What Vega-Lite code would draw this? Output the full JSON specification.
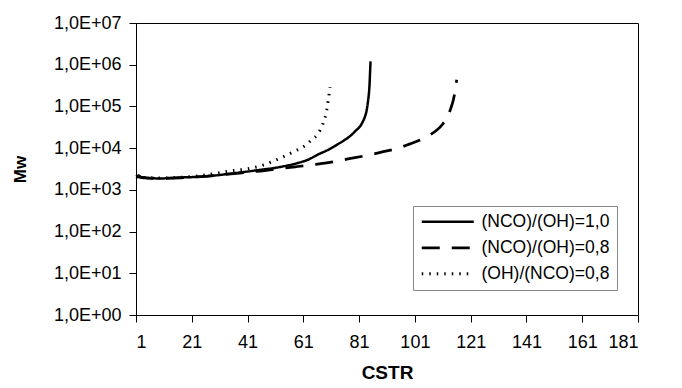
{
  "$schema": "https://vega.github.io/schema/vega-lite/v6.json",
  "width": 502,
  "height": 292,
  "autosize": "none",
  "padding": {"left": 136, "top": 23, "right": 44, "bottom": 73},
  "background": "white",
  "config": {
    "view": {"stroke": "black", "strokeWidth": 1},
    "font": "Liberation Sans",
    "axis": {
      "grid": false,
      "domainColor": "black",
      "tickColor": "black",
      "labelColor": "black",
      "titleColor": "black",
      "labelFont": "Liberation Sans",
      "titleFont": "Liberation Sans",
      "labelFontSize": 18,
      "titleFontWeight": "bold",
      "tickSize": 7,
      "labelPadding": 8
    }
  },
  "data": {
    "values": [
      {"series": "(NCO)/(OH)=1,0", "CSTR": 1, "Mw": 2100},
      {"series": "(NCO)/(OH)=1,0", "CSTR": 2, "Mw": 2200},
      {"series": "(NCO)/(OH)=1,0", "CSTR": 3, "Mw": 1950},
      {"series": "(NCO)/(OH)=1,0", "CSTR": 6, "Mw": 1900},
      {"series": "(NCO)/(OH)=1,0", "CSTR": 10, "Mw": 1880},
      {"series": "(NCO)/(OH)=1,0", "CSTR": 17, "Mw": 1980},
      {"series": "(NCO)/(OH)=1,0", "CSTR": 23, "Mw": 2050},
      {"series": "(NCO)/(OH)=1,0", "CSTR": 29, "Mw": 2200},
      {"series": "(NCO)/(OH)=1,0", "CSTR": 35, "Mw": 2450},
      {"series": "(NCO)/(OH)=1,0", "CSTR": 41, "Mw": 2750},
      {"series": "(NCO)/(OH)=1,0", "CSTR": 47, "Mw": 3100},
      {"series": "(NCO)/(OH)=1,0", "CSTR": 50, "Mw": 3300},
      {"series": "(NCO)/(OH)=1,0", "CSTR": 55, "Mw": 3800},
      {"series": "(NCO)/(OH)=1,0", "CSTR": 59, "Mw": 4400},
      {"series": "(NCO)/(OH)=1,0", "CSTR": 63, "Mw": 5400},
      {"series": "(NCO)/(OH)=1,0", "CSTR": 66, "Mw": 6900},
      {"series": "(NCO)/(OH)=1,0", "CSTR": 70, "Mw": 9200},
      {"series": "(NCO)/(OH)=1,0", "CSTR": 73, "Mw": 12000},
      {"series": "(NCO)/(OH)=1,0", "CSTR": 76, "Mw": 16000},
      {"series": "(NCO)/(OH)=1,0", "CSTR": 78, "Mw": 20000},
      {"series": "(NCO)/(OH)=1,0", "CSTR": 80, "Mw": 27000},
      {"series": "(NCO)/(OH)=1,0", "CSTR": 81.3, "Mw": 33000},
      {"series": "(NCO)/(OH)=1,0", "CSTR": 82.3, "Mw": 43000},
      {"series": "(NCO)/(OH)=1,0", "CSTR": 83.1, "Mw": 57000},
      {"series": "(NCO)/(OH)=1,0", "CSTR": 83.7, "Mw": 80000},
      {"series": "(NCO)/(OH)=1,0", "CSTR": 84.1, "Mw": 120000},
      {"series": "(NCO)/(OH)=1,0", "CSTR": 84.5, "Mw": 200000},
      {"series": "(NCO)/(OH)=1,0", "CSTR": 84.7, "Mw": 300000},
      {"series": "(NCO)/(OH)=1,0", "CSTR": 84.9, "Mw": 600000},
      {"series": "(NCO)/(OH)=1,0", "CSTR": 85.1, "Mw": 1200000},
      {"series": "(NCO)/(OH)=0,8", "CSTR": 1, "Mw": 2050},
      {"series": "(NCO)/(OH)=0,8", "CSTR": 5, "Mw": 1950},
      {"series": "(NCO)/(OH)=0,8", "CSTR": 10, "Mw": 1900},
      {"series": "(NCO)/(OH)=0,8", "CSTR": 17, "Mw": 1950},
      {"series": "(NCO)/(OH)=0,8", "CSTR": 23, "Mw": 2050},
      {"series": "(NCO)/(OH)=0,8", "CSTR": 29, "Mw": 2200},
      {"series": "(NCO)/(OH)=0,8", "CSTR": 35, "Mw": 2400},
      {"series": "(NCO)/(OH)=0,8", "CSTR": 41, "Mw": 2650},
      {"series": "(NCO)/(OH)=0,8", "CSTR": 47, "Mw": 2900},
      {"series": "(NCO)/(OH)=0,8", "CSTR": 53, "Mw": 3250},
      {"series": "(NCO)/(OH)=0,8", "CSTR": 59, "Mw": 3630},
      {"series": "(NCO)/(OH)=0,8", "CSTR": 65, "Mw": 4050},
      {"series": "(NCO)/(OH)=0,8", "CSTR": 71, "Mw": 4610},
      {"series": "(NCO)/(OH)=0,8", "CSTR": 77, "Mw": 5500},
      {"series": "(NCO)/(OH)=0,8", "CSTR": 83, "Mw": 6550},
      {"series": "(NCO)/(OH)=0,8", "CSTR": 89, "Mw": 8000},
      {"series": "(NCO)/(OH)=0,8", "CSTR": 95, "Mw": 10000},
      {"series": "(NCO)/(OH)=0,8", "CSTR": 99, "Mw": 12500},
      {"series": "(NCO)/(OH)=0,8", "CSTR": 103, "Mw": 15800},
      {"series": "(NCO)/(OH)=0,8", "CSTR": 106, "Mw": 20000},
      {"series": "(NCO)/(OH)=0,8", "CSTR": 109, "Mw": 27500},
      {"series": "(NCO)/(OH)=0,8", "CSTR": 111, "Mw": 38000},
      {"series": "(NCO)/(OH)=0,8", "CSTR": 113, "Mw": 63000},
      {"series": "(NCO)/(OH)=0,8", "CSTR": 114, "Mw": 95000},
      {"series": "(NCO)/(OH)=0,8", "CSTR": 114.8, "Mw": 145000},
      {"series": "(NCO)/(OH)=0,8", "CSTR": 115.5, "Mw": 250000},
      {"series": "(NCO)/(OH)=0,8", "CSTR": 116, "Mw": 436000},
      {"series": "(OH)/(NCO)=0,8", "CSTR": 1, "Mw": 2100},
      {"series": "(OH)/(NCO)=0,8", "CSTR": 5, "Mw": 1950},
      {"series": "(OH)/(NCO)=0,8", "CSTR": 10, "Mw": 1920},
      {"series": "(OH)/(NCO)=0,8", "CSTR": 17, "Mw": 2000},
      {"series": "(OH)/(NCO)=0,8", "CSTR": 23, "Mw": 2150},
      {"series": "(OH)/(NCO)=0,8", "CSTR": 29, "Mw": 2450},
      {"series": "(OH)/(NCO)=0,8", "CSTR": 35, "Mw": 2850},
      {"series": "(OH)/(NCO)=0,8", "CSTR": 41, "Mw": 3200},
      {"series": "(OH)/(NCO)=0,8", "CSTR": 47, "Mw": 4000},
      {"series": "(OH)/(NCO)=0,8", "CSTR": 50, "Mw": 4800},
      {"series": "(OH)/(NCO)=0,8", "CSTR": 54, "Mw": 6300},
      {"series": "(OH)/(NCO)=0,8", "CSTR": 58, "Mw": 8500},
      {"series": "(OH)/(NCO)=0,8", "CSTR": 62, "Mw": 12000},
      {"series": "(OH)/(NCO)=0,8", "CSTR": 64, "Mw": 16000},
      {"series": "(OH)/(NCO)=0,8", "CSTR": 66, "Mw": 21000},
      {"series": "(OH)/(NCO)=0,8", "CSTR": 68, "Mw": 38000},
      {"series": "(OH)/(NCO)=0,8", "CSTR": 69.4, "Mw": 83000},
      {"series": "(OH)/(NCO)=0,8", "CSTR": 70, "Mw": 150000},
      {"series": "(OH)/(NCO)=0,8", "CSTR": 70.6, "Mw": 290000}
    ]
  },
  "mark": {"type": "line", "color": "black", "interpolate": "monotone"},
  "encoding": {
    "x": {
      "field": "CSTR",
      "type": "quantitative",
      "scale": {"domain": [1, 181], "nice": false, "zero": false},
      "axis": {"values": [1, 21, 41, 61, 81, 101, 121, 141, 161, 181], "title": "CSTR", "titleFontSize": 19, "labelPadding": 11, "titlePadding": 12}
    },
    "y": {
      "field": "Mw",
      "type": "quantitative",
      "scale": {"type": "log", "domain": [1, 10000000], "nice": false},
      "axis": {
        "values": [1, 10, 100, 1000, 10000, 100000, 1000000, 10000000],
        "labelExpr": "'1,0E+0' + round(log(datum.value) / LN10)",
        "title": "Mw",
        "titleFontSize": 17,
        "titlePadding": 24
      }
    },
    "strokeDash": {
      "field": "series",
      "type": "nominal",
      "scale": {"domain": ["(NCO)/(OH)=1,0", "(NCO)/(OH)=0,8", "(OH)/(NCO)=0,8"], "range": [[1, 0], [18, 12], [1.5, 6]]},
      "legend": {
        "title": null,
        "orient": "none",
        "legendX": 277,
        "legendY": 183,
        "strokeColor": "#888888",
        "fillColor": "white",
        "padding": 7,
        "symbolType": "M-7,0H45",
        "symbolSize": 4,
        "symbolStrokeColor": "black",
        "labelFontSize": 17.5,
        "labelColor": "black",
        "labelOffset": 44,
        "rowPadding": 7
      }
    },
    "strokeWidth": {
      "field": "series",
      "type": "nominal",
      "scale": {"domain": ["(NCO)/(OH)=1,0", "(NCO)/(OH)=0,8", "(OH)/(NCO)=0,8"], "range": [2.5, 3, 1]},
      "legend": {
        "title": null,
        "orient": "none",
        "legendX": 277,
        "legendY": 183,
        "strokeColor": "#888888",
        "fillColor": "white",
        "padding": 7,
        "symbolType": "M-7,0H45",
        "symbolSize": 4,
        "symbolStrokeColor": "black",
        "labelFontSize": 17.5,
        "labelColor": "black",
        "labelOffset": 44,
        "rowPadding": 7
      }
    }
  }
}
